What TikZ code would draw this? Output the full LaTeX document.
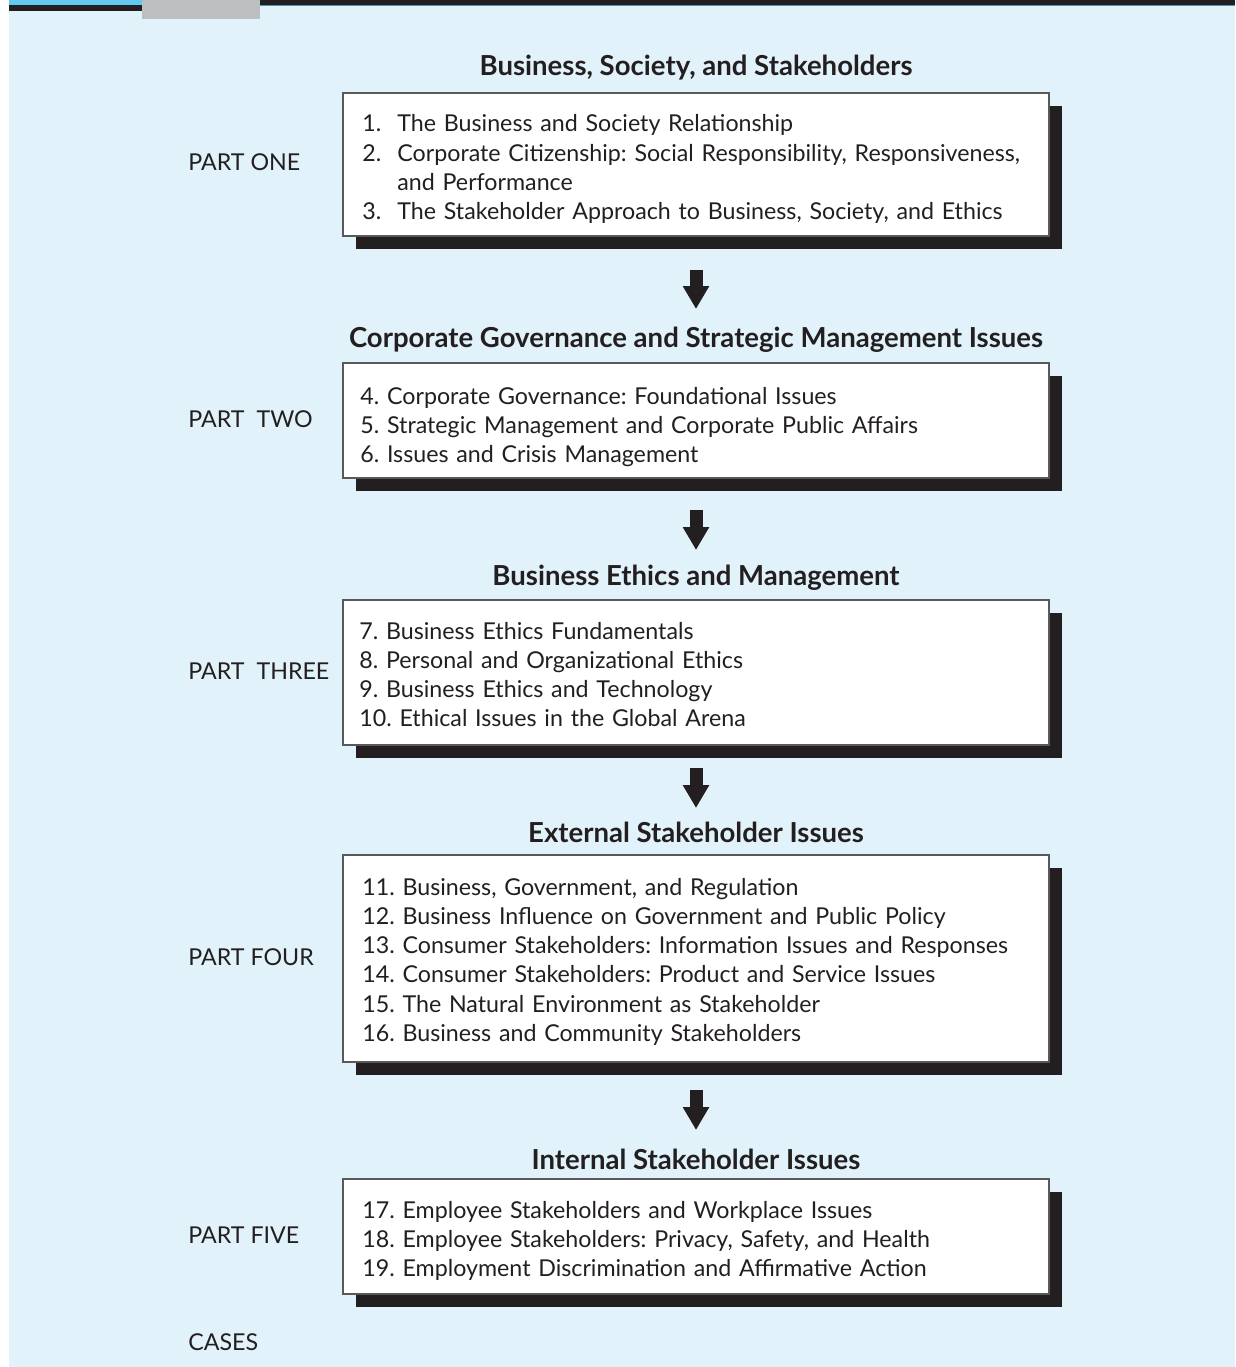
\documentclass[tikz,border=0pt]{standalone}
\usepackage{fontspec}
\setmainfont{Lato}
\usetikzlibrary{arrows.meta}

\definecolor{paleblue}{HTML}{E1F2FB}
\definecolor{barcyan}{HTML}{62C9F2}
\definecolor{ink}{HTML}{231F20}
\definecolor{tabgrey}{HTML}{BCBEC0}
\definecolor{rimgrey}{HTML}{58595B}

\newlength\fitwd

\tikzset{every picture/.style={line width=0.75pt}}
\tikzset{
  chapbox/.style={draw=rimgrey, line width=1.5pt, fill=white, anchor=north west,
    minimum width=706pt, inner sep=0pt, outer sep=0pt},
  itemtxt/.style={anchor=base west, inner sep=0pt, text=ink, text width=690pt, align=left,
    font=\fontsize{\itemsz}{29.3}\selectfont},
  parttxt/.style={anchor=base west, inner sep=0pt, text=ink, font=\fontsize{\itemsz}{29.3}\selectfont},
  headtxt/.style={anchor=base, inner sep=0pt, text=ink, font=\fontsize{\headsz}{20}\selectfont\bfseries},
  downarrow/.style={draw=ink, line width=13pt, -{Triangle[length=23pt,width=25pt]}}
}

\begin{document}
\frenchspacing
%fit the type to the widths of the printed lines
\settowidth\fitwd{\fontsize{10}{12}\selectfont 13. Consumer Stakeholders: Information Issues and Responses}
\pgfmathsetmacro\itemsz{10*635/\fitwd}
\settowidth\fitwd{\fontsize{10}{12}\selectfont\bfseries Corporate Governance and Strategic Management Issues}
\pgfmathsetmacro\headsz{10*694/\fitwd}
\begin{tikzpicture}[x=1pt,y=1pt,yscale=-1,xscale=1]
\useasboundingbox (0,0) rectangle (1235,1367);

%Shape: page band
\fill[paleblue] (9,6) rectangle (1235,1367);
\fill[barcyan] (9,0) rectangle (142,5.5);
\fill[ink] (9,5.5) rectangle (142,11);
\fill[ink] (260,0) rectangle (1235,5);
\fill[barcyan!70!ink] (260,5) rectangle (1235,6.5);
\fill[tabgrey] (142,0) rectangle (260,19);

%Shape: chapter boxes with their shadows
\foreach \ytop/\yht/\k in {93/143/1, 363/115/2, 600/145/3, 855/207/4, 1179/115/5}{
  \fill[ink] (356,\ytop+13) rectangle (1062,\ytop+\yht+13);
  \node[chapbox, minimum height=\yht pt] (box\k) at (343,\ytop) {};
}

% Text Node
\node[headtxt] (head1) at (696,76) {Business, Society, and Stakeholders};
\node[headtxt] (head2) at (696,347) {Corporate Governance and Strategic Management Issues};
\node[headtxt] (head3) at (696,585) {Business Ethics and Management};
\node[headtxt] (head4) at (696,842) {External Stakeholder Issues};
\node[headtxt] (head5) at (696,1169) {Internal Stakeholder Issues};

% Text Node
\node[parttxt] (part1) at (188,171) {PART ONE};
\node[parttxt] (part2) at (188,427) {PART\ \ TWO};
\node[parttxt] (part3) at (188,679) {PART\ \ THREE};
\node[parttxt] (part4) at (188,965) {PART FOUR};
\node[parttxt] (part5) at (188,1243) {PART FIVE};
\node[parttxt] (cases) at (188,1350) {CASES};

% Text Node
\node[itemtxt] (items1) at (362,132) {\makebox[35pt][l]{1.}The Business and Society Relationship\\
  \makebox[35pt][l]{2.}Corporate Citizenship: Social Responsibility, Responsiveness,\\
  \hspace*{35pt}and Performance\\
  \makebox[35pt][l]{3.}The Stakeholder Approach to Business, Society, and Ethics};
\node[itemtxt] (items2) at (360,404) {4. Corporate Governance: Foundational Issues\\
  5. Strategic Management and Corporate Public Affairs\\
  6. Issues and Crisis Management};
\node[itemtxt] (items3) at (359,639) {7. Business Ethics Fundamentals\\
  8. Personal and Organizational Ethics\\
  9. Business Ethics and Technology\\
  10. Ethical Issues in the Global Arena};
\node[itemtxt] (items4) at (362,895) {11. Business, Government, and Regulation\\
  12. Business Influence on Government and Public Policy\\
  13. Consumer Stakeholders: Information Issues and Responses\\
  14. Consumer Stakeholders: Product and Service Issues\\
  15. The Natural Environment as Stakeholder\\
  16. Business and Community Stakeholders};
\node[itemtxt] (items5) at (362,1218) {17. Employee Stakeholders and Workplace Issues\\
  18. Employee Stakeholders: Privacy, Safety, and Health\\
  19. Employment Discrimination and Affirmative Action};

%Shape: arrows between the parts
\coordinate (a1s) at (696,270); \coordinate (a1e) at (696,309);
\coordinate (a2s) at (696,510); \coordinate (a2e) at (696,550);
\coordinate (a3s) at (696,768); \coordinate (a3e) at (696,808);
\coordinate (a4s) at (696,1090); \coordinate (a4e) at (696,1130);
\foreach \k in {1,...,4}{
  \draw[downarrow] (a\k s) -- (a\k e);
}
\end{tikzpicture}
\end{document}
